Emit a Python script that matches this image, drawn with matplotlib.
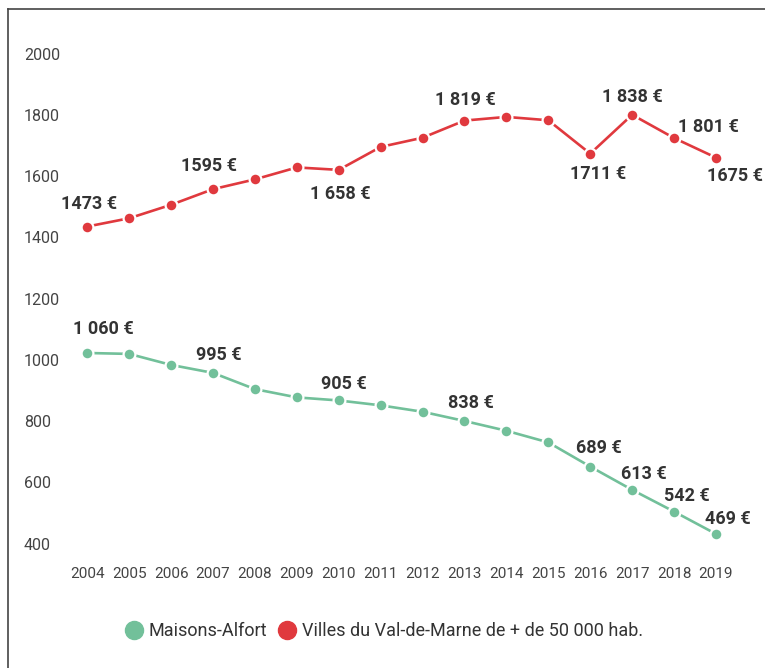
import matplotlib
matplotlib.use("Agg")
import matplotlib.pyplot as plt
from matplotlib import transforms
from matplotlib.lines import Line2D

plt.rcParams['font.family'] = ['Roboto', 'DejaVu Sans']

years = list(range(2004, 2020))
# Villes du Val-de-Marne de + de 50 000 hab.
villes = [1473, 1500, 1544, 1595, 1627, 1666, 1658, 1733, 1763, 1819, 1831, 1820, 1711, 1838, 1762, 1698]
# Maisons-Alfort
maisons = [1060, 1057, 1021, 995, 942, 915, 905, 889, 868, 838, 806, 768, 689, 613, 542, 469]

# labelled points: year -> (text, dx px, dy px)
villes_labels = {2004: ("1473 €", 2, 23), 2007: ("1595 €", -4, 23), 2010: ("1 658 €", 2, -24),
                 2013: ("1 819 €", 1, 21), 2016: ("1711 €", 8, -20), 2017: ("1 838 €", 0, 18),
                 2018: ("1 801 €", 34, 11), 2019: ("1675 €", 19, -18)}
maisons_labels = {2004: ("1 060 €", 16, 24), 2007: ("995 €", 6, 18), 2010: ("905 €", 5, 16),
                  2013: ("838 €", 6, 18), 2016: ("689 €", 9, 19), 2017: ("613 €", 12, 16),
                  2018: ("542 €", 13, 16), 2019: ("469 €", 12, 15)}
y_ticks = [400, 600, 800, 1000, 1200, 1400, 1600, 1800, 2000]

red = "#e0393e"
green = "#72c09a"
txt = "#333333"

fig = plt.figure(figsize=(7.65, 6.68), dpi=100)
ax = fig.add_axes([0.0593, 0.1232, 0.9314, 0.8251])
ax.set_xlim(2003, 2020)
ax.set_ylim(300, 2100)
ax.axis("off")

for vals, col, labs in [(villes, red, villes_labels), (maisons, green, maisons_labels)]:
    ax.plot(years, vals, color=col, lw=1.9, marker="o", ms=8.5,
            mec="white", mew=1.6, zorder=3)
    for yr, (s, dx, dy) in labs.items():
        v = vals[years.index(yr)]
        ax.annotate(s, (yr, v), xytext=(dx, dy), textcoords="offset pixels",
                    ha="center", va="center", fontsize=13, fontweight="bold",
                    color=txt, zorder=4)

# y labels sit a bit above their value, as in the original
ytr = transforms.offset_copy(transforms.blended_transform_factory(fig.transFigure, ax.transData),
                             fig=fig, y=10, units="dots")
for t in y_ticks:
    ax.text(24 / 765, t, str(t), transform=ytr, ha="left", va="center",
            fontsize=11.5, color="#444444")

xtr = transforms.blended_transform_factory(ax.transData, fig.transFigure)
for yr in years:
    ax.text(yr, 1 - 574 / 668, str(yr), transform=xtr, ha="center", va="center",
            fontsize=11, color="#444444")

# frame lines (left and top)
fig.add_artist(Line2D([8 / 765, 8 / 765], [0, 1 - 9 / 668], transform=fig.transFigure,
                      color="#444444", lw=1.2))
fig.add_artist(Line2D([8 / 765, 1], [1 - 9 / 668, 1 - 9 / 668], transform=fig.transFigure,
                      color="#444444", lw=1.2))

handles = [Line2D([], [], ls="none", marker="o", ms=13, color=green, mec=green),
           Line2D([], [], ls="none", marker="o", ms=13, color=red, mec=red)]
fig.legend(handles, ["Maisons-Alfort", "Villes du Val-de-Marne de + de 50 000 hab."],
           loc="center", bbox_to_anchor=(0.502, 1 - 631 / 668), ncol=2, frameon=False,
           fontsize=13, handletextpad=0.3, columnspacing=0.6, handlelength=1.0,
           labelcolor=txt)

fig.savefig("out.png", dpi=100)
